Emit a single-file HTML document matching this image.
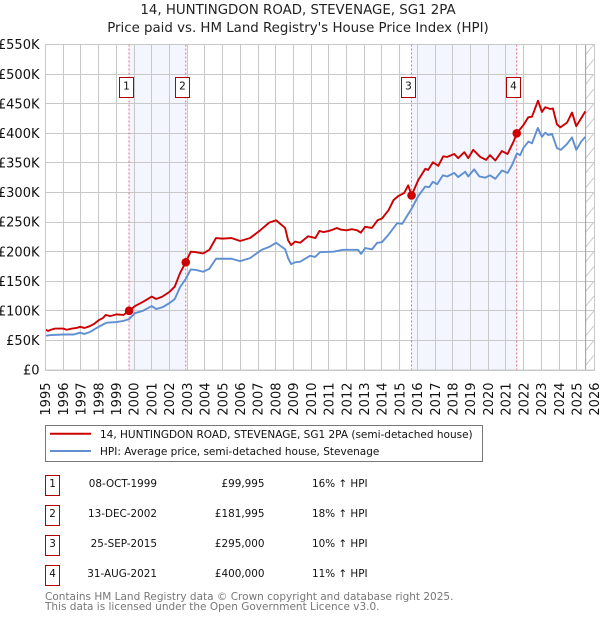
<!DOCTYPE html>
<html>
<head>
<meta charset="utf-8">
<title>14, Huntingdon Road price chart</title>
<style>
html,body{margin:0;padding:0;background:#fff;}
body{width:600px;height:620px;overflow:hidden;}
svg{display:block;font-family:"DejaVu Sans",sans-serif;}
</style>
</head>
<body>
<svg id="chart" width="600" height="620" viewBox="0 0 600 620" xmlns="http://www.w3.org/2000/svg">
<defs>
<pattern id="hatch" patternUnits="userSpaceOnUse" width="9" height="14.8">
<line x1="0" y1="11" x2="9" y2="0" stroke="#c8c8c8" stroke-width="1"/>
</pattern>
</defs>
<g id="plot"></g>
<text x="298" y="14" text-anchor="middle" font-size="13.35" fill="#222">14, HUNTINGDON ROAD, STEVENAGE, SG1 2PA</text>
<text x="298" y="32" text-anchor="middle" font-size="13.35" fill="#222">Price paid vs. HM Land Registry's House Price Index (HPI)</text>

<g>
<rect x="45.5" y="425.5" width="437" height="36" fill="#fff" stroke="#777" stroke-width="1"/>
<line x1="50" y1="433.7" x2="91" y2="433.7" stroke="#cc0000" stroke-width="2"/>
<text x="100" y="438" font-size="10.5" fill="#111">14, HUNTINGDON ROAD, STEVENAGE, SG1 2PA (semi-detached house)</text>
<line x1="50" y1="451" x2="91" y2="451" stroke="#5f8fd0" stroke-width="2"/>
<text x="100" y="455" font-size="10.5" fill="#111">HPI: Average price, semi-detached house, Stevenage</text>
</g>

<g font-size="10.4" fill="#111">
<g>
<rect x="45.5" y="475.5" width="14" height="20" fill="#fff" stroke="#b00000" stroke-width="1"/>
<text x="52.5" y="487" text-anchor="middle">1</text>
<text x="157" y="487" text-anchor="end">08-OCT-1999</text>
<text x="264.5" y="487" text-anchor="end">£99,995</text>
<text x="312" y="487">16% ↑ HPI</text>
</g>
<g>
<rect x="45.5" y="505.5" width="14" height="20" fill="#fff" stroke="#b00000" stroke-width="1"/>
<text x="52.5" y="517" text-anchor="middle">2</text>
<text x="157" y="517" text-anchor="end">13-DEC-2002</text>
<text x="264.5" y="517" text-anchor="end">£181,995</text>
<text x="312" y="517">18% ↑ HPI</text>
</g>
<g>
<rect x="45.5" y="535.5" width="14" height="20" fill="#fff" stroke="#b00000" stroke-width="1"/>
<text x="52.5" y="547" text-anchor="middle">3</text>
<text x="157" y="547" text-anchor="end">25-SEP-2015</text>
<text x="264.5" y="547" text-anchor="end">£295,000</text>
<text x="312" y="547">10% ↑ HPI</text>
</g>
<g>
<rect x="45.5" y="565.5" width="14" height="20" fill="#fff" stroke="#b00000" stroke-width="1"/>
<text x="52.5" y="577" text-anchor="middle">4</text>
<text x="157" y="577" text-anchor="end">31-AUG-2021</text>
<text x="264.5" y="577" text-anchor="end">£400,000</text>
<text x="312" y="577">11% ↑ HPI</text>
</g>
</g>

<text x="45" y="600" font-size="10.5" fill="#777">Contains HM Land Registry data © Crown copyright and database right 2025.</text>
<text x="45" y="610" font-size="10.5" fill="#777">This data is licensed under the Open Government Licence v3.0.</text>
</svg>

<script>
const yearTicks = [1995,1996,1997,1998,1999,2000,2001,2002,2003,2004,2005,2006,2007,2008,2009,2010,2011,2012,2013,2014,2015,2016,2017,2018,2019,2020,2021,2022,2023,2024,2025,2026];
const valueTicks = [0,50,100,150,200,250,300,350,400,450,500,550];
const valueTickLabels = ['£0','£50K','£100K','£150K','£200K','£250K','£300K','£350K','£400K','£450K','£500K','£550K'];

const priceDates = [1995,1995.15,1995.3,1995.55,1996,1996.2,1996.5,1996.75,1996.95,1997.2,1997.5,1997.75,1998,1998.25,1998.4,1998.65,1999,1999.4,1999.72,2000.05,2000.5,2001,2001.25,2001.6,2002,2002.3,2002.6,2002.92,2003.2,2003.5,2003.9,2004.25,2004.63,2005,2005.5,2005.99,2006.55,2007.12,2007.63,2008.02,2008.53,2008.7,2008.87,2009.1,2009.38,2009.83,2010.24,2010.47,2010.7,2011,2011.2,2011.45,2011.7,2012,2012.3,2012.6,2012.8,2013.05,2013.43,2013.75,2014,2014.37,2014.65,2014.92,2015.25,2015.48,2015.67,2016.05,2016.45,2016.6,2016.88,2017.18,2017.46,2017.67,2018.08,2018.3,2018.65,2018.87,2019.15,2019.55,2019.88,2020.1,2020.4,2020.77,2021.09,2021.43,2021.61,2021.99,2022.26,2022.47,2022.81,2023.03,2023.22,2023.5,2023.65,2023.88,2024.07,2024.45,2024.73,2024.97,2025.3,2025.48];
const priceValues = [68,66,68,70,70,68,70,71,73,71,74,78,84,88,93,91,94,93,99.995,108,115,124,120,124,132,141,164,181.995,200,199,197,203,223,222,223,218,223,236,249,253,240,219,211,217,215,226,223,235,233,235,237,240,237,236,238,236,232,242,240,253,256,270,287,294,299,312,295,321,340,338,351,345,361,360,365,358,368,358,372,360,355,363,354,370,365,386,400,414,427,428,455,436,444,441,442,415,410,418,435,412,428,437];

const hpiDates = [1995,1995.3,1996,1996.6,1996.95,1997.2,1997.5,1998,1998.45,1999,1999.4,1999.72,2000.05,2000.5,2001,2001.25,2001.6,2002,2002.3,2002.6,2002.92,2003.2,2003.5,2003.9,2004.25,2004.63,2005,2005.5,2005.99,2006.55,2007.2,2007.63,2008.02,2008.53,2008.7,2008.87,2009.1,2009.38,2009.94,2010.22,2010.5,2011.25,2011.8,2012.65,2012.82,2013.05,2013.44,2013.73,2014,2014.35,2014.86,2015.14,2015.7,2016.05,2016.44,2016.67,2016.87,2017.12,2017.44,2017.68,2018.08,2018.3,2018.7,2018.87,2019.2,2019.5,2019.83,2020.1,2020.4,2020.77,2021.09,2021.34,2021.62,2021.8,2021.98,2022.27,2022.47,2022.8,2023.03,2023.22,2023.39,2023.6,2023.88,2024.1,2024.45,2024.73,2024.97,2025.25,2025.48];
const hpiValues = [58,59,60,60,63,61,64,73,80,81,83,86,96,100,108,103,106,113,120,140,154,170,169,166,171,188,188,188,184,189,203,208,215,204,189,179,182,183,193,191,199,200,203,203,196,206,204,215,216,228,248,247,274,294,310,309,318,314,329,327,333,326,335,327,339,327,325,329,323,337,333,346,366,363,375,386,383,409,394,401,397,399,375,372,382,393,372,386,394];

const saleDates = [1999.72,2002.92,2015.67,2021.61];
const saleValues = [99.995,181.995,295,400];
const saleLabels = ['1','2','3','4'];

const left = 45.5, right = 594.5, top0 = 44.5, bottom = 370;
const xMin = 1995, xMax = 2026, yMin = 0, yMax = 550, dataEnd = 2025.5;
function xScale(t){ return left + (t - xMin) * (right - left) / (xMax - xMin); }
function yScale(v){ return bottom - (v - yMin) * (bottom - top0) / (yMax - yMin); }

const NS = 'http://www.w3.org/2000/svg';
const plot = document.getElementById('plot');
function mk(tag, attrs, parent){
  const e = document.createElementNS(NS, tag);
  for (const k in attrs) e.setAttribute(k, attrs[k]);
  (parent || plot).appendChild(e);
  return e;
}

// shaded ownership bands
for (let i = 0; i + 1 < saleDates.length; i += 2) {
  const band = mk('rect', {x: xScale(saleDates[i]), y: top0, width: xScale(saleDates[i+1]) - xScale(saleDates[i]), height: bottom - top0, fill: '#f3f6fe'});
  
  
}

// hatched future region
const hatch = mk('rect', {x: xScale(dataEnd), y: top0, width: right - xScale(dataEnd), height: bottom - top0, fill: 'url(#hatch)'});



// grid and tick labels
yearTicks.forEach(function(yr){
  const x = Math.round(xScale(yr) - 0.5) + 0.5;
  const g = mk('line', {x1: x, x2: x, y1: top0, y2: bottom, stroke: '#c8c8c8', 'stroke-width': 1});
  
  
  const t = mk('text', {transform: 'translate(' + (xScale(yr) + 4.7) + ',382.5) rotate(-90)', 'text-anchor': 'end', 'font-size': 13, fill: '#111'});
  t.textContent = yr;
  
  
});
valueTicks.forEach(function(v, i){
  const y = Math.round(yScale(v) - 0.5) + 0.5;
  const g = mk('line', {x1: left, x2: right, y1: y, y2: y, stroke: '#c8c8c8', 'stroke-width': 1});
  
  
  const t = mk('text', {x: 39.5, y: yScale(v) + 4.7, 'text-anchor': 'end', 'font-size': 13, fill: '#111'});
  t.textContent = valueTickLabels[i];
  
  
});

// end-of-data line
const endLine = mk('line', {x1: xScale(dataEnd), x2: xScale(dataEnd), y1: top0, y2: bottom, stroke: '#999', 'stroke-width': 1});



// sale date lines
saleDates.forEach(function(d){
  const l = mk('line', {x1: xScale(d), x2: xScale(d), y1: top0, y2: bottom, stroke: '#ee6677', 'stroke-width': 1, 'stroke-dasharray': '2 2'});
  
  
});

// series
function pathFor(xs, ys){
  return xs.map(function(t, i){ return (i ? 'L' : 'M') + xScale(t).toFixed(2) + ' ' + yScale(ys[i]).toFixed(2); }).join('');
}
const hpiLine = mk('path', {d: pathFor(hpiDates, hpiValues), fill: 'none', stroke: '#5f8fd0', 'stroke-width': 1.9, 'stroke-linejoin': 'round'});


const priceLine = mk('path', {d: pathFor(priceDates, priceValues), fill: 'none', stroke: '#cc0000', 'stroke-width': 1.9, 'stroke-linejoin': 'round'});



// sale markers and numbered badges
saleDates.forEach(function(d, i){
  const c = mk('circle', {cx: xScale(d), cy: yScale(saleValues[i]), r: 4.3, fill: '#cc0000'});
  
  
  const bx = Math.floor(xScale(d) - 10) + 0.5;
  const r = mk('rect', {x: bx, y: 77.5, width: 14, height: 20, fill: '#fff', stroke: '#b00000', 'stroke-width': 1});
  
  
  const t = mk('text', {x: bx + 7, y: 89.5, 'text-anchor': 'middle', 'font-size': 10.5, fill: '#111'});
  t.textContent = saleLabels[i];
  
  
});

// plot frame
const frame = mk('rect', {x: left, y: top0, width: right - left, height: bottom - top0, fill: 'none', stroke: '#c8c8c8', 'stroke-width': 1});


</script>
</body>
</html>
